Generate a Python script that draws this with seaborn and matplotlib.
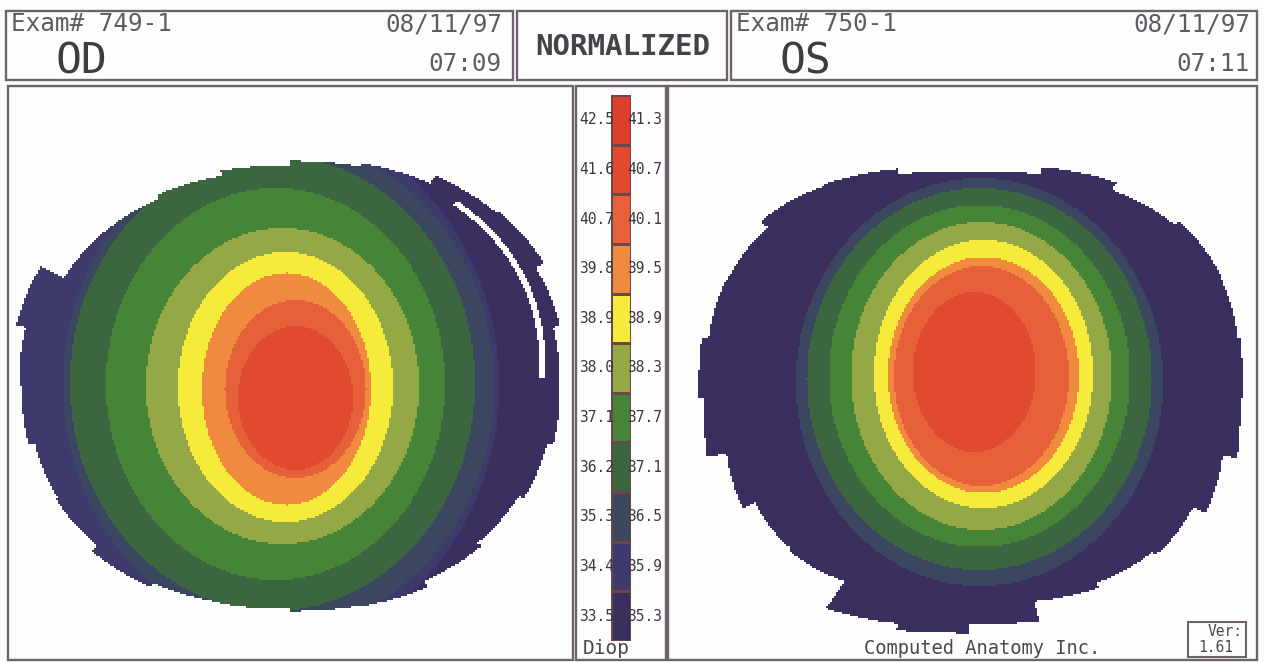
import numpy as np
import matplotlib
matplotlib.use("Agg")
import matplotlib.pyplot as plt
from matplotlib.colors import ListedColormap
from matplotlib.patches import Rectangle
import seaborn as sns

# ---------------- data ----------------
SCALE_LEFT = ["42.5", "41.6", "40.7", "39.8", "38.9", "38.0", "37.1", "36.2", "35.3", "34.4", "33.5"]
SCALE_RIGHT = ["41.3", "40.7", "40.1", "39.5", "38.9", "38.3", "37.7", "37.1", "36.5", "35.9", "35.3"]
LEVEL_COLORS = ["#de3e2c", "#e24a30", "#e6603a", "#ef8a3e", "#f6ea3a", "#94a846",
                "#468538", "#3c6640", "#3b4760", "#3e3b6c", "#3a2f5f"]

# OD (left eye) zone boundaries (level index, ellipse centre / half-axes in px)
OD_LEVEL = [1, 2, 3, 4, 5, 6, 7, 8, 9]
OD_CX = [296, 296, 287, 286, 283, 276, 273, 279, 255]
OD_CY = [398, 389, 389, 387, 386, 384, 383, 385, 385]
OD_RX = [58, 71, 85, 108, 137, 170, 203, 216, 245]
OD_RY = [72, 89, 116, 135, 158, 196, 228, 245, 270]
OD_EDGE = [0.996, 1.021, 1.057, 1.048, 1.011, 0.996, 0.976, 0.953, 0.935, 0.935, 1.031, 0.996,
           0.986, 0.962, 0.970, 1.000, 0.982, 0.986, 0.996, 1.000, 0.970, 0.951, 0.972, 0.996]
OD_GAP_ANGLE = [2, 53]
OD_GAP_RADIUS = [0.93, 0.985]

# OS (right eye)
OS_LEVEL = [1, 2, 3, 4, 5, 6, 7, 8]
OS_CX = [975, 982, 984, 984, 982, 980, 980, 980]
OS_CY = [372, 376, 375, 374, 376, 376, 379, 382]
OS_RX = [62, 88, 96, 110, 131, 151, 173, 184]
OS_RY = [80, 110, 118, 134, 154, 171, 191, 204]
OS_EDGE = [1.023, 1.016, 1.020, 1.000, 1.035, 1.003, 1.003, 1.026, 1.020, 0.983, 0.988, 1.013,
           0.993, 0.920, 0.871, 0.881, 1.010, 1.040, 1.000, 0.911, 0.890, 0.908, 0.959, 1.013]

HEADERS = [("Exam# 749-1", "OD", "08/11/97", "07:09"),
           ("Exam# 750-1", "OS", "08/11/97", "07:11")]

# ---------------- layout ----------------
W, H = 1264, 662
CELL = 2
MONO = "DejaVu Sans Mono"
LINE = "#6e626e"
TXT = "#5e5c62"

sns.set_style("white")
plt.rcParams["font.family"] = [MONO, "DejaVu Sans"]
fig = plt.figure(figsize=(W / 100, H / 100), dpi=100, facecolor="#fdfdfd")
cmap = ListedColormap(LEVEL_COLORS)


def px_axes(x0, y0, x1, y1):
    return fig.add_axes([x0 / W, 1 - y1 / H, (x1 - x0) / W, (y1 - y0) / H])


def zone_grid(box, centre, radii, power, edge, levels, cx, cy, rx, ry, gap=None):
    x0, y0, x1, y1 = box
    xs = np.arange(x0, x1, CELL) + CELL / 2
    ys = np.arange(y0, y1, CELL) + CELL / 2
    X, Y = np.meshgrid(xs, ys)
    Z = np.full(X.shape, 10.0)
    for lev, a, b, ra, rb in reversed(list(zip(levels, cx, cy, rx, ry))):
        Z[((X - a) / ra) ** 2 + ((Y - b) / rb) ** 2 <= 1] = lev
    u = (X - centre[0]) / radii[0]
    v = -(Y - centre[1]) / radii[1]
    rn = (np.abs(u) ** power + np.abs(v) ** power) ** (1 / power)
    ang = np.degrees(np.arctan2(v, u)) % 360
    sector = (ang // (360 / len(edge))).astype(int)
    Z[rn > np.asarray(edge)[sector]] = np.nan
    if gap is not None:
        (a0, a1), (r0, r1) = gap
        t = np.clip((ang - a0) / (a1 - a0), 0, 1)
        gr = r0 + t * (r1 - r0)
        Z[(ang >= a0) & (ang <= a1) & (np.abs(rn - gr) < 0.011)] = np.nan
    return Z


def draw_map(box, Z):
    ax = px_axes(*box)
    sns.heatmap(Z, ax=ax, cmap=cmap, vmin=-0.5, vmax=10.5, cbar=False,
                xticklabels=False, yticklabels=False, mask=np.isnan(Z),
                rasterized=True)
    ax.set_facecolor("#fdfdfd")
    ax.axis("off")


od_box = (10, 88, 571, 658)
os_box = (670, 88, 1255, 658)
draw_map(od_box, zone_grid(od_box, (290, 386), (272, 226), 2.2, OD_EDGE,
                           OD_LEVEL, OD_CX, OD_CY, OD_RX, OD_RY,
                           gap=(OD_GAP_ANGLE, OD_GAP_RADIUS)))
draw_map(os_box, zone_grid(os_box, (970, 398), (268, 226), 2.6, OS_EDGE,
                           OS_LEVEL, OS_CX, OS_CY, OS_RX, OS_RY))

# colour scale
bar_top, bar_bot = 95, 641
cax = px_axes(611, bar_top, 631, bar_bot)
sns.heatmap(np.arange(len(LEVEL_COLORS)).reshape(-1, 1), ax=cax, cmap=cmap,
            vmin=-0.5, vmax=10.5, cbar=False, linewidths=0.8, linecolor="#6a4848",
            xticklabels=False, yticklabels=False)
cax.axis("off")

# overlay for frames and text
ov = fig.add_axes([0, 0, 1, 1])
ov.set_xlim(0, W)
ov.set_ylim(H, 0)
ov.axis("off")
ov.patch.set_alpha(0)


def box(x0, y0, x1, y1, lw=1.7):
    ov.add_patch(Rectangle((x0, y0), x1 - x0, y1 - y0, fill=False,
                           edgecolor=LINE, linewidth=lw))


box(6, 11, 513, 80)
box(517, 11, 727, 80)
box(731, 11, 1257, 80)
box(8, 86, 573, 660)
box(576, 86, 666, 660)
box(668, 86, 1257, 660)

for (exam, eye, date, time), (xl, xr) in zip(HEADERS, [(11, 502), (736, 1250)]):
    ov.text(xl, 24, exam, fontsize=17.5, color=TXT, va="center", ha="left")
    ov.text(xr, 24, date, fontsize=17.5, color=TXT, va="center", ha="right")
    ov.text(xr, 64, time, fontsize=17.5, color=TXT, va="center", ha="right")
    ov.text(xl + 44, 61, eye, fontsize=31, color="#3e3c42", va="center", ha="left")

ov.text(623, 47, "NORMALIZED", fontsize=21, fontweight="bold", color="#45434a",
        va="center", ha="center")

step = (bar_bot - bar_top) / len(SCALE_LEFT)
for i, (l, r) in enumerate(zip(SCALE_LEFT, SCALE_RIGHT)):
    yc = bar_top + step * (i + 0.5)
    ov.text(614, yc, l, fontsize=10.5, color="#3a383e", va="center", ha="right")
    ov.text(627, yc, r, fontsize=10.5, color="#3a383e", va="center", ha="left")
ov.text(583, 648, "Diop", fontsize=14, color="#4a484e", va="center", ha="left")

ov.text(864, 648, "Computed Anatomy Inc.", fontsize=13.5, color="#4a484e",
        va="center", ha="left")
box(1188, 622, 1246, 657, lw=1.5)
ov.text(1243, 631, "Ver:", fontsize=10.5, color="#4a484e", va="center", ha="right")
ov.text(1216, 647, "1.61", fontsize=10.5, color="#4a484e", va="center", ha="center")

fig.savefig("out.png", dpi=100, facecolor=fig.get_facecolor())
